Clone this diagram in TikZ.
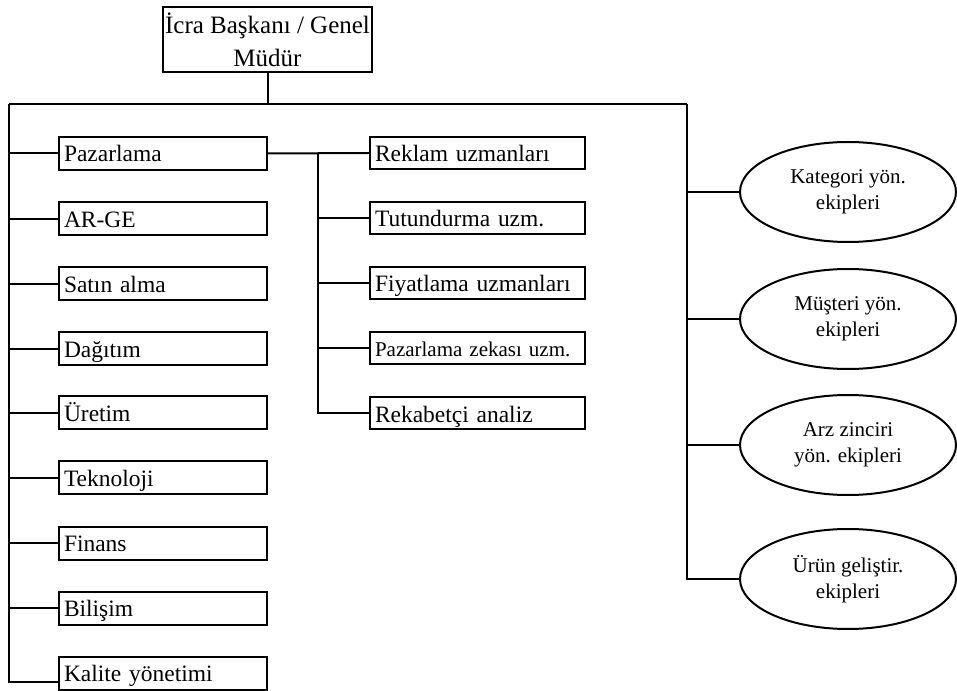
\documentclass[tikz,border=0pt]{standalone}
\usepackage{fontspec}
\setmainfont{Liberation Serif}
\usetikzlibrary{shapes.geometric}
\begin{document}
\begin{tikzpicture}[x=0.75pt,y=-0.75pt,line width=1.5pt,
  unitbox/.style={draw, rectangle, inner xsep=3.75pt, inner ysep=0pt,
    minimum height=24.75pt, text width=148.5pt, align=left,
    text height=18.75pt, text depth=6pt,
    font=\fontsize{17.6}{20}\selectfont},
  subbox/.style={unitbox, text width=153.75pt, minimum height=24pt,
    text height=18.5pt, text depth=5.5pt},
  team/.style={draw, ellipse, minimum width=162pt, minimum height=75pt,
    inner sep=0pt, align=center, font=\fontsize{15.75}{19.5}\selectfont}
]
\useasboundingbox (0,0) rectangle (957,691);

% head of the organisation
\node[draw, rectangle, minimum width=156.75pt, minimum height=48.75pt,
  inner sep=0pt, align=center, font=\fontsize{18.75}{24.75}\selectfont]
  (ceo) at (267.5,39.5) {İcra Başkanı / Genel\\Müdür};

% functional units
\node[unitbox] (paz) at (163,153.5) {Pazarlama};
\node[unitbox] (arge) at (163,219) {AR-GE};
\node[unitbox] (sat) at (163,284) {Satın alma};
\node[unitbox] (dag) at (163,349) {Dağıtım};
\node[unitbox] (ure) at (163,413) {Üretim};
\node[unitbox] (tek) at (163,478) {Teknoloji};
\node[unitbox] (fin) at (163,543) {Finans};
\node[unitbox] (bil) at (163,608) {Bilişim};
\node[unitbox] (kal) at (163,673) {Kalite yönetimi};

% marketing specialists
\node[subbox] (rek) at (477.5,153) {Reklam uzmanları};
\node[subbox] (tut) at (477.5,218) {Tutundurma uzm.};
\node[subbox] (fiy) at (477.5,283) {Fiyatlama uzmanları};
\node[subbox, font=\fontsize{15.75}{18}\selectfont] (zek) at (477.5,348) {Pazarlama zekası uzm.};
\node[subbox] (rak) at (477.5,413.5) {Rekabetçi analiz};

% cross-functional teams
\node[team] (kat) at (848,192) {Kategori yön.\\ekipleri};
\node[team] (mus) at (848,319) {Müşteri yön.\\ekipleri};
\node[team] (arz) at (848,445) {Arz zinciri\\yön. ekipleri};
\node[team] (urn) at (848,579) {Ürün geliştir.\\ekipleri};

% main bus
\coordinate (lt) at (9,104);
\coordinate (rt) at (687,104);
\coordinate (lb) at (9,682);
\coordinate (ms) at (318,153);

\draw (ceo.south) -- (ceo.south |- lt);
\draw (lt) -- (rt);
\draw (lt) -- (lb) -- (lb -| kal.west);
\draw (rt) |- (urn.west);

% left branches
\foreach \n in {paz,arge,sat,dag,ure,tek,fin,bil}
  \draw (\n.west -| lt) -- (\n.west);

% marketing sub-tree
\draw (paz.east) -- (rek.west);
\draw (ms) |- (rak.west);
\foreach \n in {tut,fiy,zek}
  \draw (\n.west -| ms) -- (\n.west);

% team branches
\foreach \n in {kat,mus,arz}
  \draw (\n.west -| rt) -- (\n.west);
\end{tikzpicture}
\end{document}
